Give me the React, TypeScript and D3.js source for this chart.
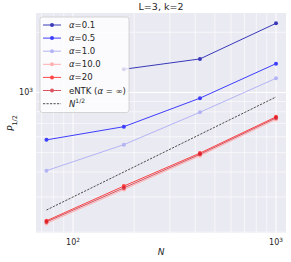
import * as d3 from 'd3'

const W = 291
const H = 262
const margin = { top: 13, right: 5, bottom: 29, left: 36 }

const sizes: number[] = [74, 178, 422, 1000]
const sizesA01: number[] = [178, 422, 1000]

const alpha01: number[] = [1306, 1471, 2218]
const alpha05: number[] = [579, 674, 936, 1393]
const alpha1: number[] = [406, 548, 796, 1177]
const alpha10: number[] = [221, 327, 482, 733]
const alpha20: number[] = [228, 340, 497, 755]
const entk: number[] = [225, 333, 490, 745]
const sqrtRef: number[] = [258, 400, 616, 949]

const xTicks: number[] = [100, 1000]
const yTicks: number[] = [1000]

const series = [
  { label: '=0.1', greek: true, xs: sizesA01, ys: alpha01, color: '#1a1ab0', opacity: 0.85 },
  { label: '=0.5', greek: true, xs: sizes, ys: alpha05, color: '#2b2bff', opacity: 0.9 },
  { label: '=1.0', greek: true, xs: sizes, ys: alpha1, color: '#b4b4f4', opacity: 1 },
  { label: '=10.0', greek: true, xs: sizes, ys: alpha10, color: '#ffb0b0', opacity: 1 },
  { label: '=20', greek: true, xs: sizes, ys: alpha20, color: '#ff3333', opacity: 0.9 },
  { label: 'eNTK (', greek: false, xs: sizes, ys: entk, color: '#d01020', opacity: 0.7 },
]

export default function App() {
  const x = d3.scaleLog().domain([65.7, 1120]).range([margin.left, W - margin.right])
  const y = d3.scaleLog().domain([198, 2497]).range([H - margin.bottom, margin.top])
  const [x0, x1] = x.range()
  const [yb, yt] = y.range()

  const xMinor = [70, 80, 90, 200, 300, 400, 500, 600, 700, 800, 900]
  const yMinor = [200, 300, 400, 500, 600, 700, 800, 900, 2000]

  const line = (xs: number[]) =>
    d3.line<number>().x((_, i) => x(xs[i])).y(d => y(d))

  const font = 'DejaVu Sans, sans-serif'

  return (
    <svg width={W} height={H} style={{ position: 'absolute', left: 0, top: 0 }} fontFamily={font}>
      <rect x={0} y={0} width={W} height={H} fill="#fff" />
      <rect x={x0} y={yt} width={x1 - x0} height={yb - yt} fill="#eaeaf2" />

      {xMinor.map(v => (
        <line key={'xm' + v} x1={x(v)} x2={x(v)} y1={yt} y2={yb} stroke="#fff" strokeWidth={0.6} />
      ))}
      {yMinor.map(v => (
        <line key={'ym' + v} x1={x0} x2={x1} y1={y(v)} y2={y(v)} stroke="#fff" strokeWidth={0.6} />
      ))}
      {xTicks.map(v => (
        <line key={'xg' + v} x1={x(v)} x2={x(v)} y1={yt} y2={yb} stroke="#fff" strokeWidth={1} />
      ))}
      {yTicks.map(v => (
        <line key={'yg' + v} x1={x0} x2={x1} y1={y(v)} y2={y(v)} stroke="#fff" strokeWidth={1} />
      ))}

      {series.map(s => (
        <g key={s.label} opacity={s.opacity}>
          <path d={line(s.xs)(s.ys) || ''} fill="none" stroke={s.color} strokeWidth={1} />
          {s.ys.map((v, i) => (
            <circle key={i} cx={x(s.xs[i])} cy={y(v)} r={2} fill={s.color} />
          ))}
        </g>
      ))}
      <path
        d={line(sizes)(sqrtRef) || ''}
        fill="none"
        stroke="#222"
        strokeWidth={0.8}
        strokeDasharray="2.2,1.3"
      />

      {/* legend */}
      <rect x={40} y={17} width={89} height={95.5} rx={2.5} fill="#fff" fillOpacity={0.8} stroke="#cccccc" strokeWidth={0.8} />
      {series.map((s, i) => {
        const ly = 25 + i * 13.1
        return (
          <g key={'lg' + s.label}>
            <g opacity={s.opacity}>
              <line x1={43} x2={61} y1={ly} y2={ly} stroke={s.color} strokeWidth={1} />
              <circle cx={52} cy={ly} r={2} fill={s.color} />
            </g>
            <text x={69} y={ly + 3} fontSize={8.5} fill="#262626">
              {s.greek ? (
                <>
                  <tspan fontStyle="italic">α</tspan>
                  <tspan>{s.label}</tspan>
                </>
              ) : (
                <>
                  <tspan>{s.label}</tspan>
                  <tspan fontStyle="italic">α</tspan>
                  <tspan> = ∞)</tspan>
                </>
              )}
            </text>
          </g>
        )
      })}
      <line x1={43} x2={61} y1={103.7} y2={103.7} stroke="#222" strokeWidth={0.8} strokeDasharray="2.2,1.3" />
      <text x={69} y={106.7} fontSize={8.5} fill="#262626">
        <tspan fontStyle="italic">N</tspan>
        <tspan dy={-3.5} fontSize={6}>1/2</tspan>
      </text>

      {/* axes ticks */}
      {xTicks.map(v => (
        <text key={'xt' + v} x={x(v)} y={yb + 12} fontSize={8} fill="#262626" textAnchor="middle">
          10<tspan dy={-3.5} fontSize={5.8}>{Math.round(Math.log10(v))}</tspan>
        </text>
      ))}
      {yTicks.map(v => (
        <text key={'yt' + v} x={x0 - 3} y={y(v) + 3} fontSize={8} fill="#262626" textAnchor="end">
          10<tspan dy={-3.5} fontSize={5.8}>{Math.round(Math.log10(v))}</tspan>
        </text>
      ))}

      <text x={(x0 + x1) / 2} y={9.5} fontSize={9.5} fill="#262626" textAnchor="middle">
        L=3, k=2
      </text>
      <text x={(x0 + x1) / 2} y={255} fontSize={9} fill="#262626" textAnchor="middle" fontStyle="italic">
        N
      </text>
      <text
        transform={`translate(14, ${(yt + yb) / 2}) rotate(-90)`}
        fontSize={9}
        fill="#262626"
        textAnchor="middle"
      >
        <tspan fontStyle="italic">P</tspan>
        <tspan dy={2.5} fontSize={6.5}>1/2</tspan>
      </text>
    </svg>
  )
}
